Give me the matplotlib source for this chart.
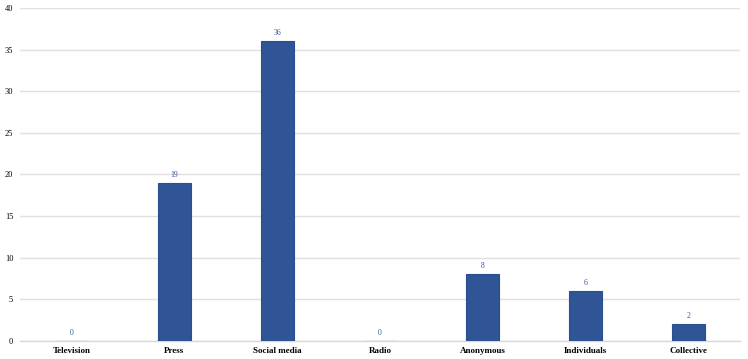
import matplotlib.pyplot as plt

categories = ['Television', 'Press', 'Social media', 'Radio', 'Anonymous', 'Individuals', 'Collective']
counts = [0, 19, 36, 0, 8, 6, 2]
y_ticks = [0, 5, 10, 15, 20, 25, 30, 35, 40]

plt.rcParams['font.family'] = ['Liberation Serif', 'DejaVu Serif']

fig = plt.figure(figsize=(7.48, 3.59), dpi=100)
ax = fig.add_axes([0.027, 0.05, 0.962, 0.928])

x = range(len(categories))
ax.bar(x, counts, width=0.32, color='#2F5597', edgecolor='#2a4f8f', linewidth=0.8, zorder=3)

for xi, v in zip(x, counts):
    ax.text(xi, v + 0.5, str(v), ha='center', va='bottom', fontsize=5.5, color='#2F5597')

ax.set_xlim(-0.5, len(categories) - 0.5)
ax.set_ylim(0, 40)
ax.set_yticks(y_ticks)
ax.set_xticks(list(x))
ax.set_xticklabels(categories, fontsize=6.5, fontweight='bold')
ax.tick_params(axis='y', labelsize=6, length=0, pad=5)
ax.tick_params(axis='x', length=0, pad=4)
ax.yaxis.grid(True, color='#E0E0E0', linewidth=1, zorder=0)
for side in ['left', 'right', 'top']:
    ax.spines[side].set_visible(False)
ax.spines['bottom'].set_color('#D9D9D9')
ax.spines['bottom'].set_linewidth(1)

fig.savefig('out.png', dpi=100)
